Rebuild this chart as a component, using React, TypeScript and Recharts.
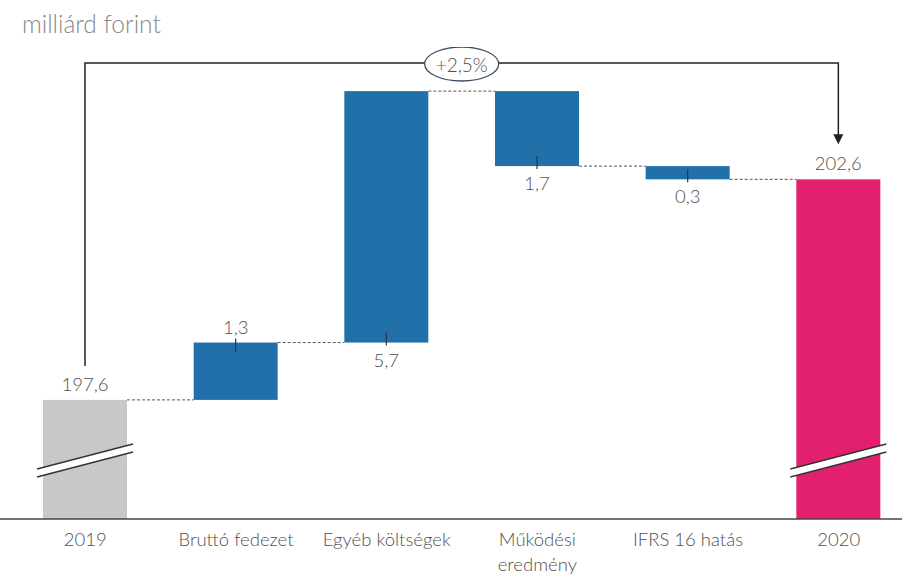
import { BarChart, Bar, XAxis, YAxis } from "recharts";

const categories = [
  "2019",
  "Bruttó fedezet",
  "Egyéb költségek",
  "Működési eredmény",
  "IFRS 16 hatás",
  "2020",
];
const tickLabels = [
  "2019",
  "Bruttó fedezet",
  "Egyéb költségek",
  "Működési\neredmény",
  "IFRS 16 hatás",
  "2020",
];
const startValue = 197.6;
const changes = [1.3, 5.7, -1.7, -0.3];
const endValue = 202.6;
const valueLabels = ["197,6", "1,3", "5,7", "1,7", "0,3", "202,6"];
const growthLabel = "+2,5%";
const unitLabel = "milliárd forint";

// broken axis: bars start at the bottom of the domain
const Y_MIN = 194.9;
const Y_MAX = 205.6;

const CHART_W = 914;
const CHART_H = 574;
const PAD_LEFT = 10;
const BAR = 84;
const BAND = (CHART_W - PAD_LEFT) / categories.length;
const GAP = BAND - BAR;
const BRACKET_Y = 63;

const GRAY = "#c8c8c8";
const BLUE = "#2270aa";
const PINK = "#e3206f";
const TEXT = "#505050";
const FONT = "Lato, 'Open Sans', sans-serif";

type Row = { name: string; range: [number, number]; kind: string };

const rows: Row[] = [];
let running = startValue;
rows.push({ name: categories[0], range: [Y_MIN, startValue], kind: "total" });
changes.forEach((c, i) => {
  const prev = running;
  running = running + c;
  rows.push({
    name: categories[i + 1],
    range: [Math.min(prev, running), Math.max(prev, running)],
    kind: c >= 0 ? "up" : "down",
  });
});
rows.push({ name: categories[5], range: [Y_MIN, endValue], kind: "total" });

const labelAbove = new Set(["Bruttó fedezet"]);

const BreakMark = ({ x, width, bottom }: any) => {
  const x1 = x - 6;
  const x2 = x + width + 6;
  return (
    <g>
      <polygon
        points={`${x1},${bottom - 50} ${x2},${bottom - 75} ${x2},${bottom - 67} ${x1},${bottom - 42}`}
        fill="#fff"
      />
      <line x1={x1} y1={bottom - 50} x2={x2} y2={bottom - 75} stroke="#333" strokeWidth={1.3} />
      <line x1={x1} y1={bottom - 42} x2={x2} y2={bottom - 67} stroke="#333" strokeWidth={1.3} />
    </g>
  );
};

const WaterfallShape = (props: any) => {
  const { x, y, width, height, index, payload } = props;
  const bottom = y + height;
  const cx = x + width / 2;
  const isTotal = payload.kind === "total";
  const fill = index === 0 ? GRAY : isTotal ? PINK : BLUE;
  const last = index === categories.length - 1;
  const level = payload.kind === "down" ? bottom : y;

  let bracket = null;
  if (last) {
    const ppu = height / (endValue - Y_MIN);
    const startTop = bottom - (startValue - Y_MIN) * ppu;
    const x0 = cx - (categories.length - 1) * BAND;
    const tipY = y - 35;
    const mid = (x0 + cx) / 2;
    bracket = (
      <g>
        <polyline
          points={`${x0},${startTop - 34} ${x0},${BRACKET_Y} ${cx},${BRACKET_Y} ${cx},${tipY - 8}`}
          fill="none"
          stroke="#222"
          strokeWidth={1.5}
        />
        <polygon points={`${cx - 5},${tipY - 10} ${cx + 5},${tipY - 10} ${cx},${tipY}`} fill="#222" />
        <ellipse cx={mid} cy={BRACKET_Y + 1} rx={37} ry={17} fill="#fff" stroke="#3d4d62" strokeWidth={1.3} />
        <text
          x={mid}
          y={BRACKET_Y + 1}
          textAnchor="middle"
          dominantBaseline="central"
          fontSize={19}
          fontWeight={300}
          fontFamily={FONT}
          fill={TEXT}
        >
          {growthLabel}
        </text>
      </g>
    );
  }

  const above = isTotal || labelAbove.has(payload.name);
  const edge = above ? y : bottom;

  return (
    <g>
      <rect x={x} y={y} width={width} height={height} fill={fill} />
      {isTotal && <BreakMark x={x} width={width} bottom={bottom} />}
      {!last && (
        <line
          x1={x + width}
          y1={level}
          x2={x + width + GAP}
          y2={level}
          stroke="#555"
          strokeWidth={1}
          strokeDasharray="3 2"
        />
      )}
      {!isTotal && (
        <line
          x1={cx}
          y1={above ? edge - 4 : edge - 10}
          x2={cx}
          y2={above ? edge + 9 : edge + 3}
          stroke="#333"
          strokeWidth={1.2}
        />
      )}
      <text
        x={cx}
        y={above ? edge - 16 : edge + 17}
        textAnchor="middle"
        dominantBaseline="central"
        fontSize={18.5}
        fontWeight={300}
        fontFamily={FONT}
        fill={TEXT}
      >
        {valueLabels[index]}
      </text>
      {bracket}
    </g>
  );
};

const CategoryTick = ({ x, y, payload }: any) => {
  const i = categories.indexOf(payload.value);
  const lines = tickLabels[i].split("\n");
  return (
    <text x={x} y={y} textAnchor="middle" fontSize={18.5} fontWeight={300} fontFamily={FONT} fill={TEXT}>
      {lines.map((l, k) => (
        <tspan key={k} x={x} dy={k === 0 ? 27 : 25}>
          {l}
        </tspan>
      ))}
    </text>
  );
};

export default function App() {
  return (
    <div
      style={{
        position: "absolute",
        left: 0,
        top: 0,
        width: 902,
        height: CHART_H,
        overflow: "hidden",
        background: "#fff",
      }}
    >
      <div
        style={{
          position: "absolute",
          left: 22,
          top: 8,
          fontFamily: FONT,
          fontWeight: 300,
          fontSize: 24.5,
          color: "#888",
          lineHeight: "32px",
        }}
      >
        {unitLabel}
      </div>
      <BarChart
        width={CHART_W}
        height={CHART_H}
        data={rows}
        margin={{ top: 47, right: 0, bottom: 0, left: 0 }}
        barCategoryGap={GAP / 2}
      >
        <XAxis
          dataKey="name"
          height={55}
          padding={{ left: PAD_LEFT, right: 0 }}
          axisLine={{ stroke: "#444", strokeWidth: 1.5 }}
          tickLine={false}
          tickSize={0}
          tickMargin={0}
          interval={0}
          tick={<CategoryTick />}
        />
        <YAxis hide domain={[Y_MIN, Y_MAX]} allowDataOverflow />
        <Bar dataKey="range" barSize={BAR} shape={<WaterfallShape />} isAnimationActive={false} />
      </BarChart>
    </div>
  );
}
